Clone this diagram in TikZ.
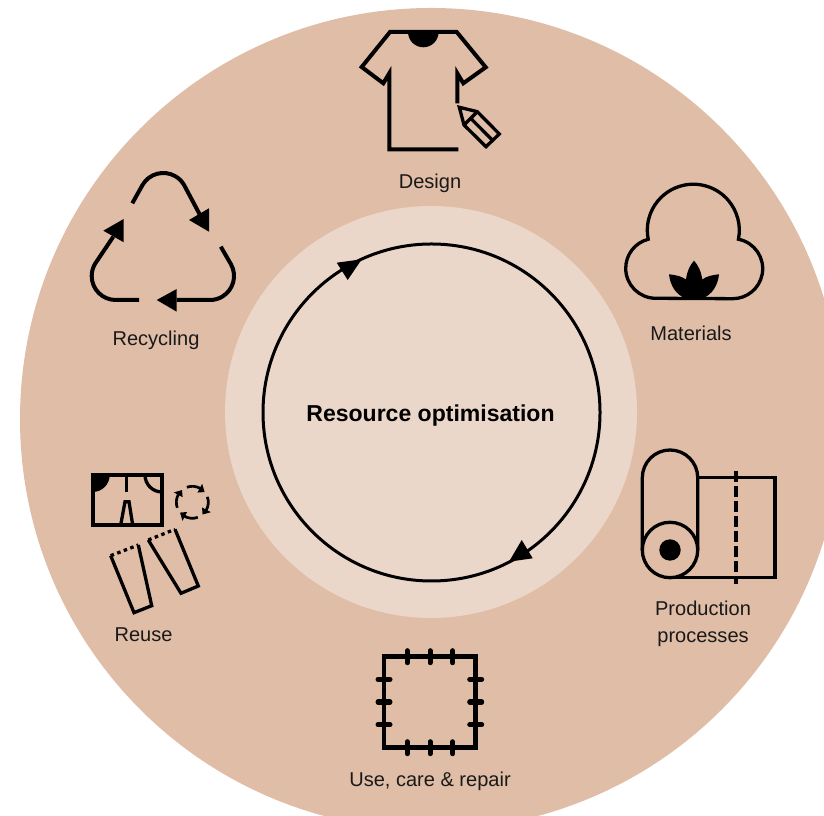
\documentclass[tikz,border=0pt]{standalone}
\usepackage{fontspec}
\setmainfont{Liberation Sans}
\usepackage{tikz}
\definecolor{outerring}{HTML}{E0BDA6}
\definecolor{innerdisc}{HTML}{EBD7C9}
\tikzset{icon/.style = {line width = 0.04cm, miter limit = 10},
         thinicon/.style = {line width = 0.033cm},
         label/.style = {font = \fontsize{5.7}{7.7}\selectfont, text = black!90, align = center}}
\begin{document}
\begin{tikzpicture}
      \useasboundingbox (0, 0) rectangle (8.24, 8.15);
      \clip (0, 0) rectangle (8.24, 8.15);
      \fill [outerring] (4.31, 3.96) circle (4.11);
      \fill [innerdisc] (4.31, 4.03) circle (2.06);

      \draw [line width = 0.03cm] (4.315, 4.025) circle (1.685);
      \fill (3.367, 5.523) -- (3.617, 5.557) -- (3.477, 5.35) -- cycle;
      \fill (5.217, 2.75) -- (5.327, 2.567) -- (5.09, 2.533) -- cycle;
      \node [font = \fontsize{6.55}{8}\selectfont\bfseries] (centre) at (4.305, 3.99) {Resource optimisation};

      \draw [icon] (4.583, 6.657) -- (3.893, 6.657) -- (3.893, 7.417) -- (3.833, 7.317) -- (3.617, 7.48) -- (3.9, 7.83) -- (4.567, 7.83) -- (4.857, 7.477) -- (4.633, 7.317) -- (4.573, 7.417) -- (4.573, 7.117);
      \fill (4.08, 7.83) arc [start angle = 180, end angle = 360, radius = 0.153] -- cycle;
      \draw [thinicon] (4.593, 7.077) -- (4.773, 7.033) -- (4.993, 6.81) -- (4.86, 6.683) -- (4.64, 6.9) -- cycle;
      \draw [thinicon] (4.773, 7.033) -- (4.64, 6.9);
      \draw [thinicon] (4.707, 6.967) -- (4.927, 6.745);
      \node [label] (design) at (4.3, 6.32) {Design};

      \draw [thinicon] (6.557, 5.167) arc [start angle = 270, end angle = 104.5, radius = 0.3]
                   arc [start angle = 191.3, end angle = -11.3, radius = 0.46]
                   arc [start angle = 79, end angle = -90, radius = 0.3] -- cycle;
      \fill (6.85, 5.17) .. controls (6.76, 5.2) and (6.7, 5.3) .. (6.69, 5.407)
            .. controls (6.76, 5.4) and (6.82, 5.385) .. (6.86, 5.355)
            .. controls (6.87, 5.44) and (6.9, 5.5) .. (6.94, 5.543)
            .. controls (6.98, 5.5) and (7.01, 5.44) .. (7.023, 5.355)
            .. controls (7.06, 5.385) and (7.12, 5.4) .. (7.19, 5.407)
            .. controls (7.18, 5.3) and (7.12, 5.2) .. (7.03, 5.17) -- cycle;
      \node [label] (materials) at (6.91, 4.82) {Materials};

      \draw [thinicon] (6.423, 2.65) -- (6.423, 3.373) arc [start angle = 180, end angle = 0, radius = 0.277] -- (6.977, 2.65);
      \draw [thinicon] (6.7, 2.65) circle (0.277);
      \fill (6.7, 2.65) circle (0.107);
      \draw [thinicon] (6.977, 3.373) -- (7.75, 3.373) -- (7.75, 2.373) -- (6.7, 2.373);
      \draw [icon, dash pattern = on 0.113cm off 0.037cm] (7.36, 3.44) -- (7.36, 2.31);
      \node [label] (production) at (7.03, 1.91) {Production\\processes};

      \draw [line width = 0.045cm] (3.84, 0.673) rectangle (4.757, 1.583);
      \foreach \x in {4.073, 4.3, 4.527} {
        \draw [icon, line width = 0.05cm, line cap = round] (\x, 1.523) -- (\x, 1.643);
        \draw [icon, line width = 0.05cm, line cap = round] (\x, 0.613) -- (\x, 0.733);
      }
      \foreach \y in {1.357, 1.13, 0.903} {
        \draw [icon, line width = 0.05cm, line cap = round] (3.78, \y) -- (3.9, \y);
        \draw [icon, line width = 0.05cm, line cap = round] (4.697, \y) -- (4.817, \y);
      }
      \node [label] (use) at (4.3, 0.34) {Use, care \& repair};

      \draw [icon] (0.927, 2.9) rectangle (1.62, 3.4);
      \fill (0.927, 3.4) -- (1.097, 3.4) arc [start angle = 0, end angle = -90, radius = 0.17] -- cycle;
      \draw [thinicon] (1.45, 3.4) arc [start angle = 180, end angle = 270, radius = 0.17];
      \draw [thinicon] (1.267, 3.4) -- (1.267, 3.227);
      \draw [thinicon] (1.207, 2.9) -- (1.25, 3.133) -- (1.29, 3.133) -- (1.327, 2.9);
      \foreach \a in {0, -90, -180, -270} {
        \begin{scope} [shift = {(1.923, 3.127)}, rotate = \a]
          \draw [line width = 0.027cm] (110:0.16) arc [start angle = 110, end angle = 60, radius = 0.16];
          \fill (40:0.16) -- (62:0.21) -- (62:0.11) -- cycle;
        \end{scope}
      }
      \draw [thinicon, dash pattern = on 0.035cm off 0.035cm] (1.107, 2.593) -- (1.383, 2.7);
      \draw [thinicon] (1.383, 2.7) -- (1.517, 2.093) -- (1.34, 2.023) -- (1.107, 2.593);
      \draw [thinicon, dash pattern = on 0.035cm off 0.035cm] (1.483, 2.75) -- (1.75, 2.857);
      \draw [thinicon] (1.75, 2.857) -- (1.983, 2.29) -- (1.81, 2.217) -- (1.483, 2.75);
      \node [label] (reuse) at (1.435, 1.8) {Reuse};

      \draw [icon] (1.323, 6.117) -- (1.425, 6.3) arc [start angle = 150, end angle = 30, radius = 0.24] -- (2.0, 6.0);
      \fill (2.09, 6.067) -- (1.89, 5.95) -- (2.09, 5.833) -- cycle;
      \draw [icon] (2.208, 5.683) -- (2.308, 5.51) arc [start angle = 30, end angle = -90, radius = 0.24] -- (1.767, 5.15);
      \fill (1.567, 5.15) -- (1.767, 5.26) -- (1.767, 5.033) -- cycle;
      \draw [icon] (1.39, 5.15) -- (1.157, 5.15) arc [start angle = 270, end angle = 150, radius = 0.24] -- (1.133, 5.783);
      \fill (1.237, 5.96) -- (1.237, 5.727) -- (1.033, 5.843) -- cycle;
      \node [label] (recycling) at (1.56, 4.75) {Recycling};
    \end{tikzpicture}
\end{document}
